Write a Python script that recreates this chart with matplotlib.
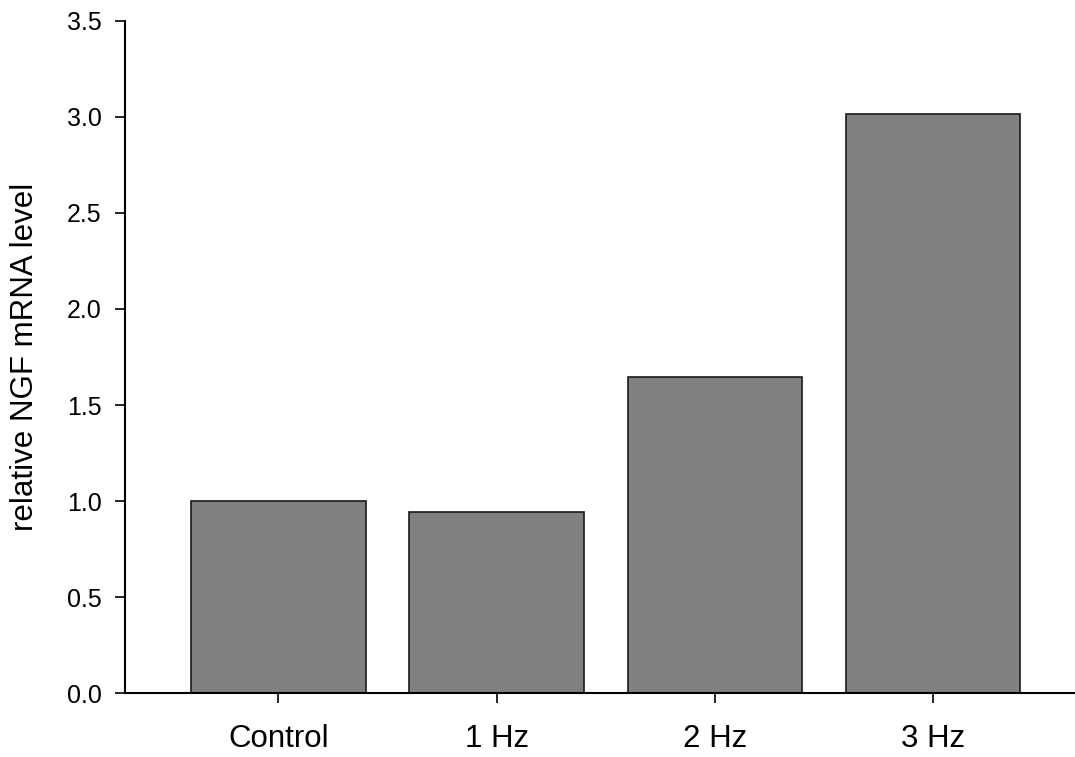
import matplotlib
matplotlib.use("Agg")
import matplotlib.pyplot as plt

categories = ["Control", "1 Hz", "2 Hz", "3 Hz"]
values = [1.0, 0.945, 1.648, 3.015]

plt.rcParams['font.family'] = ['Liberation Sans', 'DejaVu Sans']

fig = plt.figure(figsize=(10.75, 7.57), dpi=100)
ax = fig.add_axes([0.1163, 0.0845, 0.8837, 0.8878])

x = list(range(len(categories)))
ax.bar(x, values, width=0.8, color="#808080", edgecolor="#1a1a1a", linewidth=1.2)

ax.set_xlim(-0.703, 3.65)
ax.set_ylim(0, 3.5)
ax.set_yticks([0.0, 0.5, 1.0, 1.5, 2.0, 2.5, 3.0, 3.5])
ax.set_yticklabels(["0.0", "0.5", "1.0", "1.5", "2.0", "2.5", "3.0", "3.5"])
ax.set_xticks(x)
ax.set_xticklabels(categories)

for s in ["top", "right"]:
    ax.spines[s].set_visible(False)
for s in ["left", "bottom"]:
    ax.spines[s].set_linewidth(1.5)

ax.tick_params(axis="both", direction="out", length=7, width=1.2)
ax.tick_params(axis="y", labelsize=18, pad=10)
ax.tick_params(axis="x", labelsize=22.5, pad=15)
ax.set_ylabel("relative NGF mRNA level", fontsize=22.5, labelpad=19)

fig.savefig("out.png", dpi=100)
